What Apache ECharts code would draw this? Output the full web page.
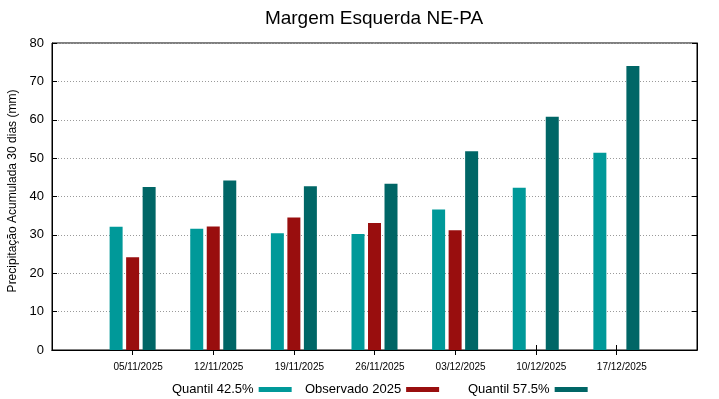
<!DOCTYPE html>
<html>
<head>
<meta charset="utf-8">
<script src="https://cdn.jsdelivr.net/npm/echarts@6/dist/echarts.min.js"></script>
<style>
  html, body { margin: 0; padding: 0; background: #fff; }
  #chart { width: 719px; height: 399px; }
</style>
</head>
<body>
<div id="chart"></div>
<script>
// categories (blank ends keep the gnuplot-like x range of -1..7)
const categories = ["05/11/2025", "12/11/2025", "19/11/2025", "26/11/2025", "03/12/2025", "10/12/2025", "17/12/2025"];
const quantil425 = [32.1, 31.6, 30.4, 30.2, 36.6, 42.3, 51.4];
const observado2025 = [24.2, 32.2, 34.5, 33.1, 31.2, null, null];
const quantil575 = [42.5, 44.2, 42.7, 43.3, 51.8, 60.8, 74.0];
const yTicks = [0, 80, 10]; // min, max, interval

const seriesNames = ["Quantil 42.5%", "Observado 2025", "Quantil 57.5%"];
const colors = ["#009999", "#990e0e", "#006666"];

const pad = (arr) => [null, ...arr, null];
const xData = ["", ...categories, ""];
const font = "Liberation Sans, Arial, sans-serif";

const chart = echarts.init(document.getElementById("chart"));

const legendAt = (name, left) => ({
  data: [name],
  left: left,
  top: 378,
  align: "right",
  icon: "rect",
  itemWidth: 33,
  itemHeight: 5,
  textStyle: { fontSize: 13, color: "#000", fontFamily: font },
});

const option = {
  animation: false,
  color: colors,
  title: {
    text: "Margem Esquerda NE-PA",
    left: 369,
    textAlign: "center",
    top: 4,
    textStyle: { fontSize: 19, fontWeight: "normal", color: "#000", fontFamily: font },
  },
  legend: [
    legendAt(seriesNames[0], 167),
    legendAt(seriesNames[1], 300),
    legendAt(seriesNames[2], 463),
  ],
  grid: {
    left: 52,
    right: 22,
    top: 43,
    bottom: 49,
    outerBoundsMode: "none",
    show: true,
    borderColor: "#000",
    borderWidth: 1,
  },
  xAxis: [
    {
      type: "category",
      data: xData,
      boundaryGap: false,
      axisLine: { lineStyle: { color: "#000" } },
      axisTick: {
        inside: true,
        length: 5,
        lineStyle: { color: "#000" },
        interval: (i) => i > 0 && i < xData.length - 1,
      },
      axisLabel: {
        fontSize: 10,
        color: "#000",
        fontFamily: font,
        margin: 12,
        padding: [0, 0, 0, 11],
        interval: 0,
      },
      splitLine: { show: false },
    },
    {
      type: "category",
      data: xData,
      position: "top",
      boundaryGap: false,
      axisLine: { lineStyle: { color: "#000" } },
      axisTick: {
        inside: true,
        length: 5,
        lineStyle: { color: "#000" },
        interval: (i) => i > 0 && i < xData.length - 1,
      },
      axisLabel: { show: false },
      splitLine: { show: false },
    },
  ],
  yAxis: [
    {
      type: "value",
      min: yTicks[0],
      max: yTicks[1],
      interval: yTicks[2],
      name: "Precipitação Acumulada 30 dias (mm)",
      nameLocation: "middle",
      nameGap: 29,
      nameTextStyle: { fontSize: 12, color: "#000", fontFamily: font, padding: [0, 0, 0, 11] },
      axisLine: { show: true, lineStyle: { color: "#000" } },
      axisTick: { show: true, inside: true, length: 5, lineStyle: { color: "#000" } },
      axisLabel: { fontSize: 13, color: "#000", fontFamily: font, margin: 8 },
      splitLine: { lineStyle: { color: "#9a9a9a", type: [1, 2], width: 1 } },
    },
    {
      type: "value",
      min: yTicks[0],
      max: yTicks[1],
      interval: yTicks[2],
      position: "right",
      axisLine: { show: true, lineStyle: { color: "#000" } },
      axisTick: { show: true, inside: true, length: 5, lineStyle: { color: "#000" } },
      axisLabel: { show: false },
      splitLine: { show: false },
    },
  ],
  series: [quantil425, observado2025, quantil575].map((vals, i) => ({
    name: seriesNames[i],
    type: "bar",
    data: pad(vals),
    barWidth: 13,
    barGap: "27%",
    itemStyle: { color: colors[i] },
  })),
};

chart.setOption(option);
</script>
</body>
</html>
